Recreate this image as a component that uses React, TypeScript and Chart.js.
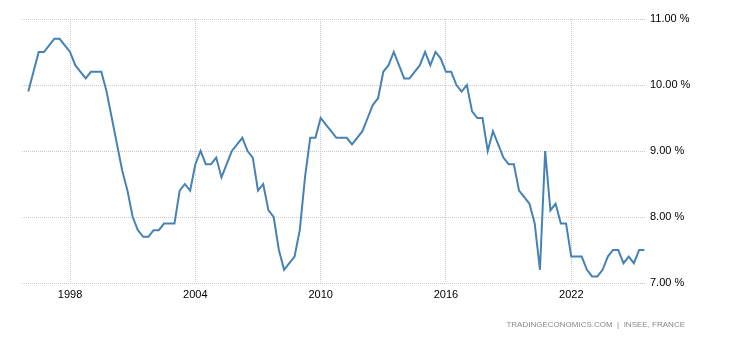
import React, { useEffect, useRef } from "react";
import { Chart, registerables } from "chart.js";

Chart.register(...registerables);

const startYear = 1996;
const values: number[] = [
  9.9, 10.2, 10.5, 10.5, 10.6, 10.7, 10.7, 10.6, 10.5, 10.3,
  10.2, 10.1, 10.2, 10.2, 10.2, 9.9, 9.5, 9.1, 8.7, 8.4,
  8.0, 7.8, 7.7, 7.7, 7.8, 7.8, 7.9, 7.9, 7.9, 8.4,
  8.5, 8.4, 8.8, 9.0, 8.8, 8.8, 8.9, 8.6, 8.8, 9.0,
  9.1, 9.2, 9.0, 8.9, 8.4, 8.5, 8.1, 8.0, 7.5, 7.2,
  7.3, 7.4, 7.8, 8.6, 9.2, 9.2, 9.5, 9.4, 9.3, 9.2,
  9.2, 9.2, 9.1, 9.2, 9.3, 9.5, 9.7, 9.8, 10.2, 10.3,
  10.5, 10.3, 10.1, 10.1, 10.2, 10.3, 10.5, 10.3, 10.5, 10.4,
  10.2, 10.2, 10.0, 9.9, 10.0, 9.6, 9.5, 9.5, 9.0, 9.3,
  9.1, 8.9, 8.8, 8.8, 8.4, 8.3, 8.2, 7.9, 7.2, 9.0,
  8.1, 8.2, 7.9, 7.9, 7.4, 7.4, 7.4, 7.2, 7.1, 7.1,
  7.2, 7.4, 7.5, 7.5, 7.3, 7.4, 7.3, 7.5, 7.5,
];
const xTickYears: number[] = [1998, 2004, 2010, 2016, 2022];
const yTicks: number[] = [7, 8, 9, 10, 11];
const sourceText = "TRADINGECONOMICS.COM  |  INSEE, FRANCE";

const FONT = "'Liberation Sans', Arial, sans-serif";

export default function App() {
  const canvasRef = useRef<HTMLCanvasElement | null>(null);

  useEffect(() => {
    const canvas = canvasRef.current;
    if (!canvas) return;
    const points = values.map((v, i) => ({ x: startYear + i / 4, y: v }));
    const chart = new Chart(canvas, {
      type: "line",
      data: {
        datasets: [
          {
            data: points,
            borderColor: "#4682b4",
            borderWidth: 2,
            pointRadius: 0,
            tension: 0,
            fill: false,
          },
        ],
      },
      options: {
        animation: false,
        responsive: false,
        maintainAspectRatio: false,
        layout: { padding: { left: 22, top: 19, right: 0, bottom: 0 } },
        plugins: { legend: { display: false }, tooltip: { enabled: false } },
        scales: {
          x: {
            type: "linear",
            min: 1995.7,
            max: 2025.53,
            afterFit: (s: any) => {
              s.height = 57;
            },
            afterBuildTicks: (s: any) => {
              s.ticks = xTickYears.map((v) => ({ value: v }));
            },
            ticks: {
              padding: 5,
              color: "#000",
              font: { family: FONT, size: 11 },
              maxRotation: 0,
              autoSkip: false,
              callback: (v: any) => String(v),
            },
            grid: { color: "#c8c8c8", drawTicks: false, lineWidth: 1 },
            border: { display: false, dash: [1, 1] },
          },
          y: {
            type: "linear",
            position: "right",
            min: 7,
            max: 11,
            afterFit: (s: any) => {
              s.width = 85;
            },
            afterBuildTicks: (s: any) => {
              s.ticks = yTicks.map((v) => ({ value: v }));
            },
            ticks: {
              padding: 5,
              color: "#000",
              font: { family: FONT, size: 11 },
              callback: (v: any) => Number(v).toFixed(2) + " %",
            },
            grid: { color: "#c8c8c8", drawTicks: false, lineWidth: 1 },
            border: { display: false, dash: [1, 1] },
          },
        },
      },
    });
    return () => chart.destroy();
  }, []);

  return (
    <div
      style={{
        position: "absolute",
        left: 0,
        top: 0,
        width: 730,
        height: 340,
        background: "#fff",
      }}
    >
      <canvas ref={canvasRef} width={730} height={340} style={{ display: "block" }} />
      <div
        style={{
          position: "absolute",
          right: 45,
          top: 320,
          fontFamily: FONT,
          fontSize: 8,
          color: "#888",
          whiteSpace: "pre",
        }}
      >
        {sourceText}
      </div>
    </div>
  );
}
